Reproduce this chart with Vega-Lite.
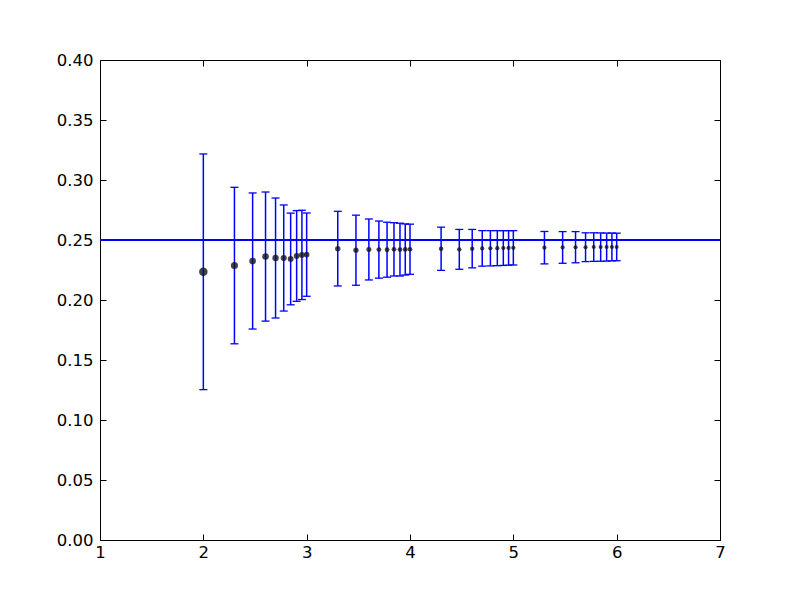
{
  "$schema": "https://vega.github.io/schema/vega-lite/v6.json",
  "width": 620,
  "height": 480,
  "autosize": "none",
  "padding": {"left": 100, "top": 60, "right": 80, "bottom": 60},
  "background": "white",
  "config": {
    "view": {"stroke": "black", "strokeWidth": 1},
    "axis": {
      "grid": false,
      "domain": false,
      "tickColor": "black",
      "tickSize": -6,
      "labelFont": "DejaVu Sans",
      "labelFontSize": 16.5,
      "labelColor": "black",
      "labelFlush": false,
      "title": null
    }
  },
  "data": {
    "values": [
      {"x": 2.0, "y": 0.2235, "err": 0.0982},
      {"x": 2.301, "y": 0.2287, "err": 0.0652},
      {"x": 2.477, "y": 0.2325, "err": 0.0567},
      {"x": 2.602, "y": 0.2362, "err": 0.0538},
      {"x": 2.699, "y": 0.235, "err": 0.05},
      {"x": 2.778, "y": 0.235, "err": 0.0442},
      {"x": 2.845, "y": 0.2342, "err": 0.0382},
      {"x": 2.903, "y": 0.2367, "err": 0.0378},
      {"x": 2.954, "y": 0.2376, "err": 0.0372},
      {"x": 3.0, "y": 0.2378, "err": 0.0347},
      {"x": 3.301, "y": 0.2428, "err": 0.0311},
      {"x": 3.477, "y": 0.2415, "err": 0.0292},
      {"x": 3.602, "y": 0.2421, "err": 0.0254},
      {"x": 3.699, "y": 0.242, "err": 0.0238},
      {"x": 3.778, "y": 0.2419, "err": 0.0229},
      {"x": 3.845, "y": 0.2422, "err": 0.0222},
      {"x": 3.903, "y": 0.242, "err": 0.022},
      {"x": 3.954, "y": 0.2421, "err": 0.0213},
      {"x": 4.0, "y": 0.2423, "err": 0.0209},
      {"x": 4.301, "y": 0.2427, "err": 0.018},
      {"x": 4.477, "y": 0.2422, "err": 0.0166},
      {"x": 4.602, "y": 0.2428, "err": 0.016},
      {"x": 4.699, "y": 0.243, "err": 0.0148},
      {"x": 4.778, "y": 0.2431, "err": 0.0147},
      {"x": 4.845, "y": 0.2432, "err": 0.0146},
      {"x": 4.903, "y": 0.2433, "err": 0.0145},
      {"x": 4.954, "y": 0.2434, "err": 0.0144},
      {"x": 5.0, "y": 0.2435, "err": 0.0143},
      {"x": 5.301, "y": 0.2436, "err": 0.0135},
      {"x": 5.477, "y": 0.2438, "err": 0.0132},
      {"x": 5.602, "y": 0.244, "err": 0.013},
      {"x": 5.699, "y": 0.244, "err": 0.012},
      {"x": 5.778, "y": 0.2441, "err": 0.0119},
      {"x": 5.845, "y": 0.2441, "err": 0.0118},
      {"x": 5.903, "y": 0.2441, "err": 0.0117},
      {"x": 5.954, "y": 0.2442, "err": 0.0116},
      {"x": 6.0, "y": 0.2442, "err": 0.0115}
    ]
  },
  "resolve": {"axis": {"x": "independent", "y": "independent"}},
  "layer": [
    {
      "mark": {"type": "rule", "color": "#0000ff", "strokeWidth": 1},
      "encoding": {
        "y": {"datum": 0.25, "type": "quantitative", "axis": null}
      }
    },
    {
      "mark": {"type": "errorbar", "color": "#0000ff", "thickness": 1.5, "rule": {"color": "#0000ff", "opacity": 1}, "ticks": {"size": 8, "color": "#0000ff", "thickness": 1.3, "opacity": 1}},
      "encoding": {
        "x": {
          "field": "x", "type": "quantitative", "title": null,
          "scale": {"domain": [1, 7], "nice": false, "zero": false},
          "axis": {"values": [1, 2, 3, 4, 5, 6, 7], "format": "d", "labelPadding": 10, "orient": "bottom", "title": null}
        },
        "y": {
          "field": "y", "type": "quantitative", "title": null,
          "scale": {"domain": [0, 0.4], "nice": false, "zero": false},
          "axis": {"values": [0, 0.05, 0.1, 0.15, 0.2, 0.25, 0.3, 0.35, 0.4], "format": ".2f", "labelPadding": 13, "orient": "left", "title": null}
        },
        "yError": {"field": "err"}
      }
    },
    {
      "mark": {"type": "circle", "color": "#111122", "opacity": 0.8},
      "encoding": {
        "x": {"field": "x", "type": "quantitative", "axis": {"orient": "top", "labels": false, "values": [1, 2, 3, 4, 5, 6, 7], "title": null}},
        "y": {"field": "y", "type": "quantitative", "axis": {"orient": "right", "labels": false, "values": [0, 0.05, 0.1, 0.15, 0.2, 0.25, 0.3, 0.35, 0.4], "title": null}},
        "size": {"field": "err", "type": "quantitative", "scale": {"domain": [0.0115, 0.0982], "range": [16, 72], "zero": false}, "legend": null}
      }
    }
  ]
}
